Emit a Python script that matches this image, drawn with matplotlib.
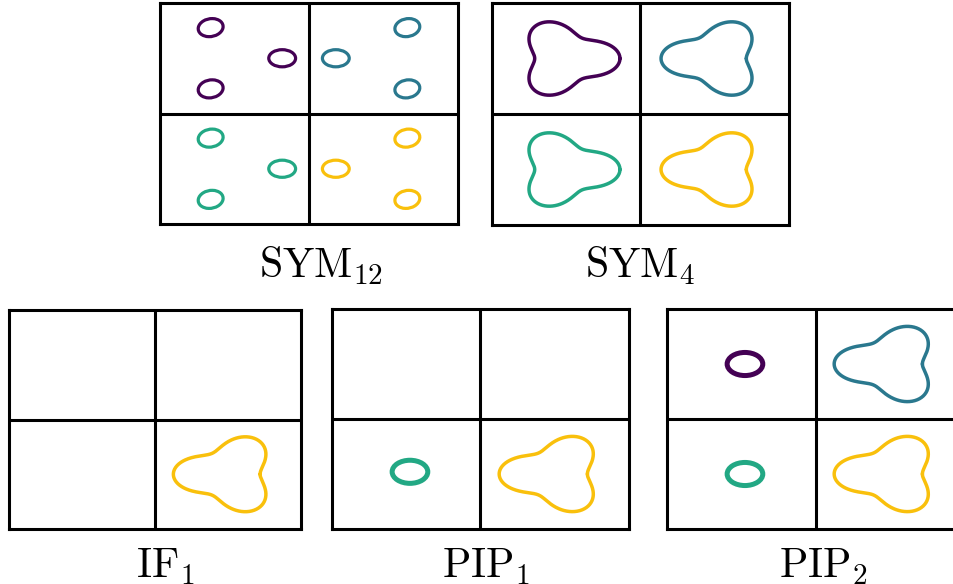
import numpy as np
import matplotlib
matplotlib.use("Agg")
import matplotlib.pyplot as plt
from matplotlib.patches import Ellipse

plt.rcParams["mathtext.fontset"] = "cm"

# colours of the four cells: top-left, top-right, bottom-left, bottom-right
cell_colors = ["#440154", "#2a788e", "#22a884", "#f9c00c"]

# what sits in each cell of each panel (same cell order as above)
panel_labels = [r"$\mathrm{SYM}_{12}$", r"$\mathrm{SYM}_{4}$",
                r"$\mathrm{IF}_{1}$", r"$\mathrm{PIP}_{1}$", r"$\mathrm{PIP}_{2}$"]
panel_cells = [
    ["dots", "dots", "dots", "dots"],
    ["tri", "tri", "tri", "tri"],
    [None, None, None, "tri"],
    [None, None, "oval", "tri"],
    ["oval", "tri", "oval", "tri"],
]
tri_size = [0.287, 0.287, 0.297, 0.297, 0.297]
oval_y = [0.5, 0.5, 0.5, 0.52, 0.5]

# trefoil r = R (1 + a cos 3(t - phi)), dots on a ring at the lobe angles
tri_a = 0.26
ring_r = 0.32
dot_angles = [0, 120, 240]

# panel boxes in pixels (left, top, right, bottom) and label placement
W, H = 954, 584
boxes = [(160, 3, 458, 224), (492, 3, 789, 225), (9, 310, 301, 529),
         (332, 309, 629, 529), (667, 309, 964, 529)]
label_x = [321, 640, 165, 486, 823]
label_base = [278, 278, 578, 578, 578]

fig = plt.figure(figsize=(W / 100, H / 100), dpi=100)

t = np.linspace(0, 2 * np.pi, 400)
for k, (x0, y0, x1, y1) in enumerate(boxes):
    ax = fig.add_axes([x0 / W, 1 - y1 / H, (x1 - x0) / W, (y1 - y0) / H])
    ax.set_xlim(0, 2)
    ax.set_ylim(0, 2)
    ax.set_xticks([])
    ax.set_yticks([])
    for sp in ax.spines.values():
        sp.set_linewidth(2.2)
    ax.axvline(1, color="k", lw=2.2)
    ax.axhline(1, color="k", lw=2.2)

    for c, kind in enumerate(panel_cells[k]):
        if kind is None:
            continue
        col = c % 2
        row = c // 2
        cx = col + 0.5
        cy = 1.5 - row
        phi = 0.0 if col == 0 else np.pi
        color = cell_colors[c]
        if kind == "tri":
            R = tri_size[k]
            r = R * (1 + tri_a * np.cos(3 * (t - phi)))
            ax.plot(cx + r * np.cos(t), cy + r * np.sin(t), color=color, lw=2.5,
                    solid_capstyle="round")
        elif kind == "dots":
            for ang in dot_angles:
                a = np.deg2rad(ang) + phi
                px = cx + ring_r * np.cos(a)
                py = cy + ring_r * np.sin(a)
                if ang == 0:
                    e = Ellipse((px, py), 0.18, 0.155, angle=0)
                else:
                    e = Ellipse((px, py), 0.175, 0.155, angle=40)
                e.set_facecolor("none")
                e.set_edgecolor(color)
                e.set_linewidth(2.3)
                ax.add_patch(e)
        elif kind == "oval":
            e = Ellipse((cx + 0.025, cy - 0.5 + oval_y[k]), 0.24, 0.21)
            e.set_facecolor("none")
            e.set_edgecolor(color)
            e.set_linewidth(3.6)
            ax.add_patch(e)

    fig.text(label_x[k] / W, 1 - label_base[k] / H, panel_labels[k],
             ha="center", va="baseline", fontsize=30)

fig.savefig("out.png", dpi=100)
